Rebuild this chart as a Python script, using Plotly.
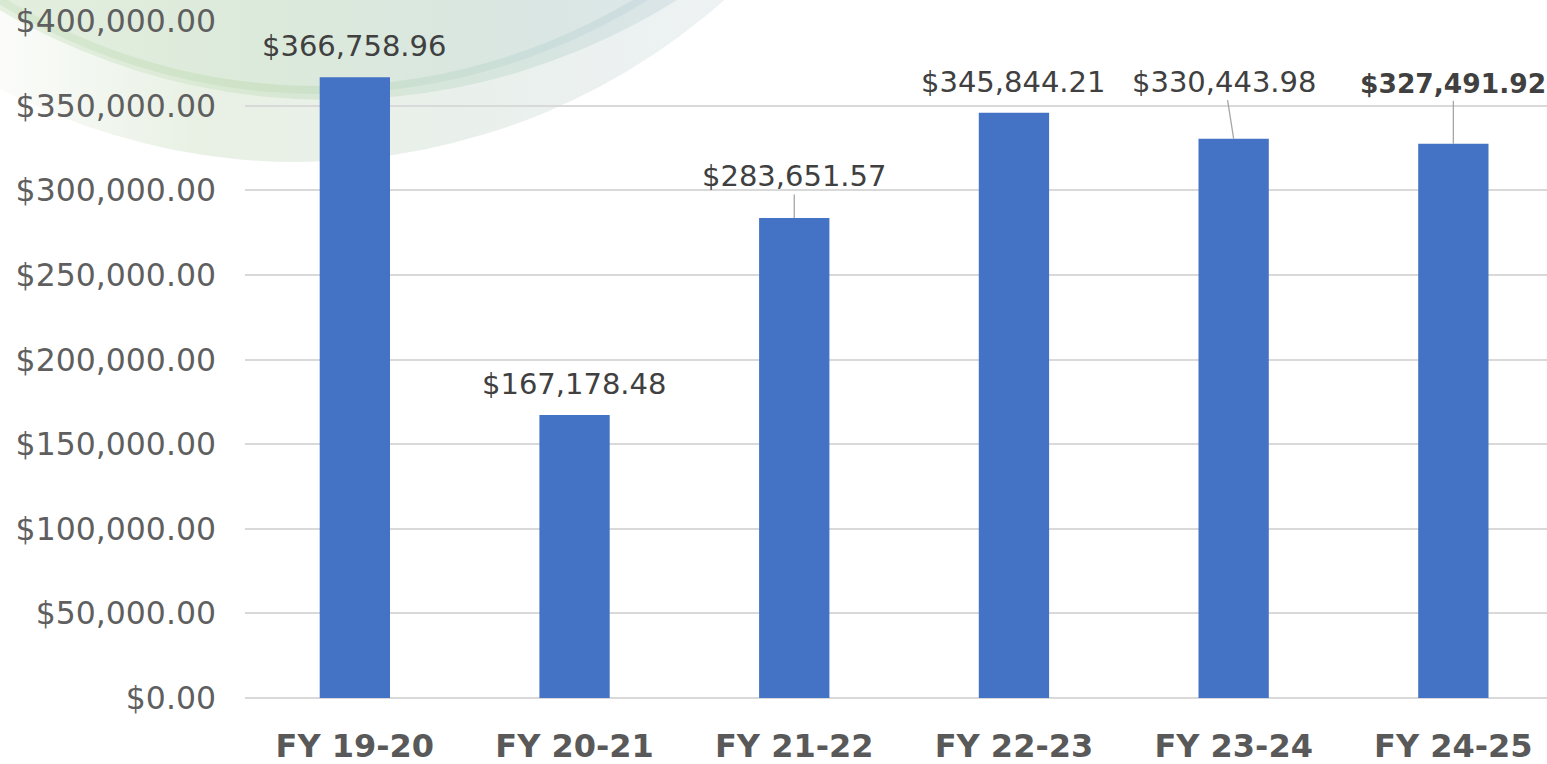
import base64
import plotly.graph_objects as go

# ---- data ----
categories = ["FY 19-20", "FY 20-21", "FY 21-22", "FY 22-23", "FY 23-24", "FY 24-25"]
values = [366758.96, 167178.48, 283651.57, 345844.21, 330443.98, 327491.92]
y_tick_values = [0, 50000, 100000, 150000, 200000, 250000, 300000, 350000, 400000]
y_tick_labels = ["$0.00", "$50,000.00", "$100,000.00", "$150,000.00", "$200,000.00",
                 "$250,000.00", "$300,000.00", "$350,000.00", "$400,000.00"]

# label placement (pixel offsets, leader lines)
label_dx = [0, 0, 0, 0, -9, 0]
label_dy = [0, 0, -42, 0, -57, -60]
label_bold = [False, False, False, False, False, True]

W, H = 1547, 764
ML, MR, MT, MB = 245, 0, 21, 66
PW, PH = W - ML - MR, H - MT - MB

BAR = "#4472C4"

fig = go.Figure()
fig.add_trace(go.Bar(
    x=categories, y=values, marker=dict(color=BAR, line=dict(width=0)),
    width=0.32, hoverinfo="x+y",
))

def fmt(v):
    return "${:,.2f}".format(v)

for c, v, dx, dy, b in zip(categories, values, label_dx, label_dy, label_bold):
    txt = fmt(v)
    size = 29
    if b:
        txt = "<b>" + txt + "</b>"
        size = 26.5
    if dy == 0:
        fig.add_annotation(x=c, y=v, text=txt, showarrow=False, yanchor="bottom",
                           yshift=12, font=dict(size=size, color="#404040"))
    else:
        fig.add_annotation(x=c, y=v, text=txt, showarrow=True, ax=dx, ay=dy,
                           arrowhead=0, arrowwidth=1.3, arrowcolor="#a6a6a6",
                           standoff=0, startstandoff=0,
                           font=dict(size=size, color="#404040"))

# decorative background arcs (top-left)
svg = f'''<svg xmlns="http://www.w3.org/2000/svg" width="{W}" height="{H}" viewBox="0 0 {W} {H}">
<defs>
<linearGradient id="gA" x1="0" y1="0" x2="760" y2="0" gradientUnits="userSpaceOnUse">
<stop offset="0" stop-color="#fbfcfa"/>
<stop offset="0.25" stop-color="#e9f1e5"/>
<stop offset="0.6" stop-color="#e9f0eb"/>
<stop offset="1" stop-color="#eef2f5"/>
</linearGradient>
<linearGradient id="gB" x1="0" y1="0" x2="700" y2="0" gradientUnits="userSpaceOnUse">
<stop offset="0" stop-color="#e6f0e1"/>
<stop offset="0.35" stop-color="#d8e8d2"/>
<stop offset="0.75" stop-color="#d6e5df"/>
<stop offset="1" stop-color="#dce5ea"/>
</linearGradient>
<linearGradient id="gC" x1="0" y1="0" x2="660" y2="0" gradientUnits="userSpaceOnUse">
<stop offset="0" stop-color="#d8e9d2"/>
<stop offset="0.4" stop-color="#cde2c6"/>
<stop offset="0.8" stop-color="#cbdeda"/>
<stop offset="1" stop-color="#cfdde2"/>
</linearGradient>
<linearGradient id="gD" x1="0" y1="0" x2="660" y2="0" gradientUnits="userSpaceOnUse">
<stop offset="0" stop-color="#e3eede"/>
<stop offset="0.4" stop-color="#dceadb"/>
<stop offset="0.8" stop-color="#d9e6e2"/>
<stop offset="1" stop-color="#dee7ea"/>
</linearGradient>
</defs>
<circle cx="298" cy="-480" r="642" fill="url(#gA)"/>
<circle cx="330" cy="-552" r="652" fill="url(#gB)"/>
<circle cx="320" cy="-524" r="614" fill="url(#gD)" stroke="url(#gC)" stroke-width="8"/>
</svg>'''
src = "data:image/svg+xml;base64," + base64.b64encode(svg.encode()).decode()
fig.add_layout_image(dict(
    source=src, xref="paper", yref="paper",
    x=-ML / PW, y=(PH + MT) / PH, sizex=W / PW, sizey=H / PH,
    xanchor="left", yanchor="top", sizing="stretch", layer="below", opacity=1,
))

step_px = 219.7
x_hi = -0.5 + PW / step_px

fig.update_layout(
    width=W, height=H,
    margin=dict(l=ML, r=MR, t=MT, b=MB, pad=0),
    paper_bgcolor="white", plot_bgcolor="rgba(0,0,0,0)",
    showlegend=False,
    font=dict(family="DejaVu Sans", color="#595959"),
    xaxis=dict(range=[-0.5, x_hi], showgrid=False, zeroline=False, showline=False,
               tickfont=dict(size=32, color="#595959", family="DejaVu Sans"),
               tickprefix="<b>", ticksuffix="</b>", ticks="", ticklabelstandoff=26),
    yaxis=dict(range=[0, 400000], tickvals=y_tick_values, ticktext=y_tick_labels,
               showgrid=True, gridcolor="#d9d9d9", gridwidth=1.5,
               zeroline=True, zerolinecolor="#d9d9d9", zerolinewidth=1.5,
               showline=False, ticks="", ticklabelstandoff=28,
               tickfont=dict(size=31.5, color="#5f5f5f", family="DejaVu Sans")),
)

fig.write_html("out.html", config={"displayModeBar": False},
               post_script="document.body.style.margin='0';document.body.style.overflow='hidden';")
